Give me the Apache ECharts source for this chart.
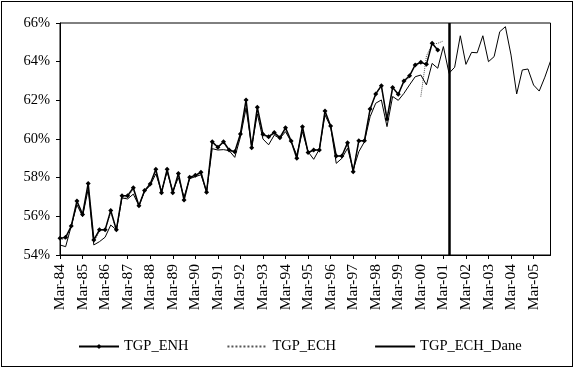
<!DOCTYPE html>
<html>
<head>
<meta charset="utf-8">
<script src="https://cdn.jsdelivr.net/npm/echarts@6/dist/echarts.min.js"></script>
<style>
  body { margin: 0; background: #fff; }
  #chart { position: absolute; left: 0; top: 0; width: 575px; height: 367px; }
  #frame { position: absolute; left: 1px; top: 1px; width: 570px; height: 364px; border: 1px solid #000; pointer-events: none; }
</style>
</head>
<body>
<div id="chart"></div>
<div id="frame"></div>
<script>
// kwartały Mar-84 .. Dec-05
const months = ['Mar', 'Jun', 'Sep', 'Dec'];
const categories = [];
for (let y = 84; y <= 105; y++) {
  months.forEach(m => categories.push(m + '-' + String(y % 100).padStart(2, '0')));
}

// TGP_ENH (Mar-84 .. Dec-00)
const tgpEnh = [
  54.86, 54.92, 55.5, 56.79, 56.1, 57.7, 54.78, 55.3, 55.3, 56.3,
  55.3, 57.07, 57.07, 57.48, 56.55, 57.33, 57.67, 58.43, 57.22, 58.43,
  57.22, 58.22, 56.84, 58.02, 58.12, 58.28, 57.24, 59.86, 59.57, 59.86,
  59.43, 59.34, 60.26, 62.02, 59.55, 61.64, 60.24, 60.12, 60.33, 60.07,
  60.58, 59.9, 59.0, 60.64, 59.3, 59.43, 59.43, 61.45, 60.67, 59.12,
  59.12, 59.81, 58.31, 59.91, 59.91, 61.55, 62.33, 62.76, 61.03, 62.67,
  62.31, 63.0, 63.27, 63.83, 63.97, 63.86, 64.95, 64.6
];

// TGP_ECH (Mar-84 .. Mar-01, przerwa w Dec-99)
const tgpEch = [
  54.8, 54.85, 55.45, 56.7, 56.0, 57.6, 54.65, 55.25, 55.3, 56.2,
  55.25, 57.0, 57.0, 57.4, 56.5, 57.3, 57.65, 58.35, 57.2, 58.4,
  57.2, 58.15, 56.9, 58.0, 58.1, 58.25, 57.2, 59.8, 59.55, 59.8,
  59.4, 59.3, 60.2, 61.85, 59.55, 61.5, 60.2, 60.05, 60.3, 60.05,
  60.5, 59.85, 59.05, 60.6, 59.3, 59.4, 59.45, 61.4, 60.65, 59.1,
  59.15, 59.75, 58.35, 59.85, 59.9, 61.5, 62.3, 62.7, 61.0, 62.6,
  62.3, 62.95, 63.2, null, 62.19, 64.3, 64.9, 64.95, 65.07
];

// TGP_ECH_Dane (Mar-84 .. Dec-05)
const tgpEchDane = [
  54.52, 54.43, 55.5, 56.6, 56.0, 57.4, 54.52, 54.69, 54.92, 55.55,
  55.3, 56.95, 56.9, 57.15, 56.55, 57.3, 57.6, 58.2, 57.3, 58.3,
  57.3, 58.0, 57.0, 57.95, 58.05, 58.15, 57.3, 59.5, 59.43, 59.45,
  59.4, 59.05, 60.1, 61.6, 59.6, 61.3, 60.0, 59.7, 60.2, 60.03,
  60.38, 59.86, 59.17, 60.38, 59.34, 58.95, 59.47, 61.24, 60.64, 58.74,
  59.0, 59.52, 58.4, 59.34, 59.86, 61.15, 61.85, 62.02, 60.64, 62.2,
  62.0, 62.36, 62.8, 63.22, 63.31, 62.8, 63.91, 63.66, 64.78, 63.4,
  63.71, 65.34, 63.86, 64.48, 64.46, 65.34, 64.0, 64.26, 65.55, 65.81,
  64.34, 62.33, 63.57, 63.62, 62.79, 62.48, 63.2, 64.03
];

const yTicks = [54, 66, 2]; // min, max, krok
const splitQuarter = 'Jun-01';

const font = '"Liberation Serif", "Times New Roman", serif';
const pad = arr => categories.map((c, i) => (arr[i] === undefined ? null : arr[i]));

const chart = echarts.init(document.getElementById('chart'));

const option = {
  animation: false,
  textStyle: { fontFamily: font, color: '#000' },
  grid: {
    left: 60, right: 24.5, top: 23, bottom: 112,
    show: true, borderColor: '#000', borderWidth: 1
  },
  legend: {
    top: 334, left: 73,
    itemWidth: 40, itemHeight: 6, itemGap: 38,
    textStyle: { fontFamily: font, fontSize: 14.5, color: '#000' },
    data: [
      { name: 'TGP_ENH' },
      { name: 'TGP_ECH', itemStyle: { opacity: 0 } },
      { name: 'TGP_ECH_Dane', itemStyle: { opacity: 0 } }
    ]
  },
  xAxis: {
    type: 'category',
    data: categories,
    boundaryGap: false,
    axisLine: { lineStyle: { color: '#000', width: 1 } },
    axisTick: { interval: 3, length: 4, inside: false, lineStyle: { color: '#000' } },
    axisLabel: {
      interval: 3, rotate: 90, margin: 9,
      fontFamily: font, fontSize: 15.5, color: '#000'
    },
    splitLine: { show: false }
  },
  yAxis: {
    type: 'value',
    min: yTicks[0], max: yTicks[1], interval: yTicks[2],
    axisLine: { show: true, lineStyle: { color: '#000', width: 1 } },
    axisTick: { show: true, length: 4, lineStyle: { color: '#000' } },
    axisLabel: { formatter: '{value}%', margin: 10, fontFamily: font, fontSize: 14.5, color: '#000' },
    splitLine: { show: false }
  },
  series: [
    {
      name: 'TGP_ENH',
      type: 'line',
      data: pad(tgpEnh),
      symbol: 'diamond',
      symbolSize: 5,
      showAllSymbol: true,
      itemStyle: { color: '#000' },
      lineStyle: { color: '#000', width: 1.5 },
      z: 3
    },
    {
      name: 'TGP_ECH',
      type: 'line',
      data: pad(tgpEch),
      symbol: 'none',
      itemStyle: { color: '#555' },
      lineStyle: { color: '#555', width: 1, type: 'dotted' },
      z: 2
    },
    {
      name: 'TGP_ECH_Dane',
      type: 'line',
      data: pad(tgpEchDane),
      symbol: 'none',
      itemStyle: { color: '#000' },
      lineStyle: { color: '#000', width: 1 },
      z: 2,
      markLine: {
        silent: true,
        symbol: 'none',
        label: { show: false },
        lineStyle: { color: '#000', width: 2.5, type: 'solid' },
        data: [{ xAxis: splitQuarter }]
      }
    }
  ]
};

chart.setOption(option);
</script>
</body>
</html>
